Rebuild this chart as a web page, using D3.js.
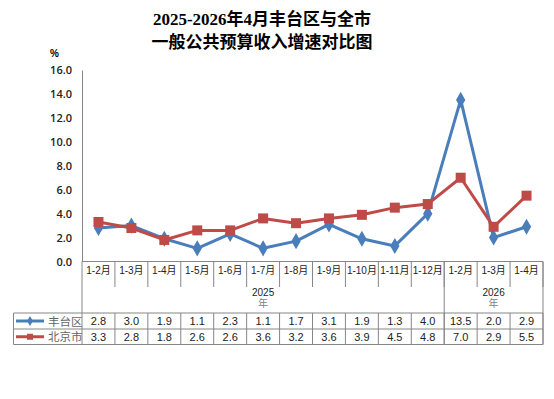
<!DOCTYPE html>
<html>
<head>
<meta charset="utf-8">
<script src="https://cdn.jsdelivr.net/npm/d3@7"></script>
<style>
  body { margin: 0; background: #fff; }
  svg text { font-family: "Liberation Sans", "Noto Sans CJK SC", sans-serif; }
</style>
</head>
<body>
<div id="chart"></div>
<script>
// chart data
var categories = ["1-2月","1-3月","1-4月","1-5月","1-6月","1-7月","1-8月","1-9月","1-10月","1-11月","1-12月","1-2月","1-3月","1-4月"];
var years = [{label: "2025", count: 11}, {label: "2026", count: 3}];
var fengtai = [2.8, 3.0, 1.9, 1.1, 2.3, 1.1, 1.7, 3.1, 1.9, 1.3, 4.0, 13.5, 2.0, 2.9];
var beijing = [3.3, 2.8, 1.8, 2.6, 2.6, 3.6, 3.2, 3.6, 3.9, 4.5, 4.8, 7.0, 2.9, 5.5];
var yTicks = [0, 2, 4, 6, 8, 10, 12, 14, 16];
var seriesNames = ["丰台区", "北京市"];

var blue = "#4a7ebb", red = "#be4b48", grid = "#868686";

var svg = d3.select("#chart").append("svg")
    .attr("width", 554)
    .attr("height", 399);

//title
var title = svg.append("text")
    .attr("x", 262)
    .attr("text-anchor", "middle")
    .style("font-family", "'Liberation Serif', 'Noto Sans CJK SC', serif")
    .style("font-weight", "bold")
    .style("font-size", "17px");
title.append("tspan").attr("x", 262).attr("y", 25).text("2025-2026年4月丰台区与全市");
title.append("tspan").attr("x", 262).attr("y", 48).text("一般公共预算收入增速对比图");

svg.append("text")
    .attr("x", 50).attr("y", 57)
    .style("font-size", "10px")
    .style("font-weight", "bold")
    .text("%");

// scales
var left = 82, right = 543;
var x = d3.scaleBand().domain(d3.range(categories.length)).range([left, right]);
var y = d3.scaleLinear().domain([0, 16]).range([261.5, 70]);

// y axis
var yAxis = svg.append("g")
    .attr("transform", "translate(" + left + ",0)")
    .call(d3.axisLeft(y).tickValues(yTicks).tickSize(0).tickPadding(10).tickFormat(d3.format(".1f")));
yAxis.select(".domain").attr("stroke", grid);
yAxis.selectAll("text")
    .style("font-family", "'Open Sans', sans-serif")
    .style("font-size", "11px")
    .style("font-weight", "600")
    .attr("fill", "#222");

// table geometry
var rowTop = 261.5, catBottom = 287, yearBottom = 313, row1 = 329, row2 = 344.5, tableLeft = 13.5;

var table = svg.append("g").attr("stroke", grid).attr("stroke-width", 1).attr("fill", "none");
// category separators
categories.forEach(function(c, i) {
    var xx = x(i) + x.bandwidth();
    table.append("line").attr("x1", xx).attr("x2", xx).attr("y1", rowTop).attr("y2", catBottom);
});
// year group separators
var acc = 0;
years.forEach(function(g) {
    acc += g.count;
    var xx = x(acc - 1) + x.bandwidth();
    table.append("line").attr("x1", xx).attr("x2", xx).attr("y1", rowTop).attr("y2", row2);
});
table.append("line").attr("x1", left).attr("x2", left).attr("y1", rowTop).attr("y2", row2);
table.append("line").attr("x1", left).attr("x2", right).attr("y1", rowTop).attr("y2", rowTop);
table.append("line").attr("x1", tableLeft).attr("x2", right).attr("y1", yearBottom).attr("y2", yearBottom);
table.append("line").attr("x1", tableLeft).attr("x2", right).attr("y1", row1).attr("y2", row1);
table.append("line").attr("x1", tableLeft).attr("x2", right).attr("y1", row2).attr("y2", row2);
table.append("line").attr("x1", tableLeft).attr("x2", tableLeft).attr("y1", yearBottom).attr("y2", row2);
categories.forEach(function(c, i) {
    var xx = x(i) + x.bandwidth();
    table.append("line").attr("x1", xx).attr("x2", xx).attr("y1", yearBottom).attr("y2", row2);
});

// category labels
svg.append("g").selectAll("text")
    .data(categories)
    .join("text")
    .attr("x", function(d, i) { return x(i) + x.bandwidth() / 2; })
    .attr("y", 274)
    .attr("text-anchor", "middle")
    .style("font-size", "10px")
    .attr("fill", "#222")
    .text(function(d) { return d; });

// year labels
acc = 0;
years.forEach(function(g) {
    var cx = (x(acc) + x(acc + g.count - 1) + x.bandwidth()) / 2;
    acc += g.count;
    svg.append("text").attr("x", cx).attr("y", 296).attr("text-anchor", "middle")
        .style("font-size", "10px").attr("fill", "#222").text(g.label);
    svg.append("text").attr("x", cx).attr("y", 307).attr("text-anchor", "middle")
        .style("font-size", "10px").attr("fill", "#7f7f7f").text("年");
});

// value rows
var rows = [{vals: fengtai, color: blue, top: yearBottom, bottom: row1, shape: d3.symbolDiamond},
            {vals: beijing, color: red, top: row1, bottom: row2, shape: d3.symbolSquare}];
rows.forEach(function(r, k) {
    var mid = (r.top + r.bottom) / 2;
    svg.append("g").selectAll("text")
        .data(r.vals)
        .join("text")
        .attr("x", function(d, i) { return x(i) + x.bandwidth() / 2; })
        .attr("y", mid + 4)
        .attr("text-anchor", "middle")
        .style("font-size", "11px")
        .attr("fill", "#222")
        .text(function(d) { return d3.format(".1f")(d); });
    // legend key
    svg.append("line").attr("x1", 16).attr("x2", 44).attr("y1", mid).attr("y2", mid)
        .attr("stroke", r.color).attr("stroke-width", 3);
    svg.append("path").attr("d", d3.symbol().type(r.shape).size(k == 0 ? 30 : 36)())
        .attr("transform", "translate(30," + mid + ")").attr("fill", r.color);
    svg.append("text").attr("x", 48).attr("y", mid + 4.5)
        .style("font-size", "11.5px").attr("fill", "#666").text(seriesNames[k]);
});

// lines and markers
var line = d3.line()
    .x(function(d, i) { return x(i) + x.bandwidth() / 2; })
    .y(function(d) { return y(d); });

// blue first, red series sits on top like in the original
rows.forEach(function(r) {
    svg.append("path").datum(r.vals)
        .attr("d", line)
        .attr("fill", "none")
        .attr("stroke", r.color)
        .attr("stroke-width", 3)
        .attr("stroke-linejoin", "round");
    svg.append("g").selectAll("path")
        .data(r.vals)
        .join("path")
        .attr("d", d3.symbol().type(r.shape).size(r.shape === d3.symbolSquare ? 100 : 75)())
        .attr("transform", function(d, i) { return "translate(" + (x(i) + x.bandwidth() / 2) + "," + y(d) + ")"; })
        .attr("fill", r.color);
});
</script>
</body>
</html>
